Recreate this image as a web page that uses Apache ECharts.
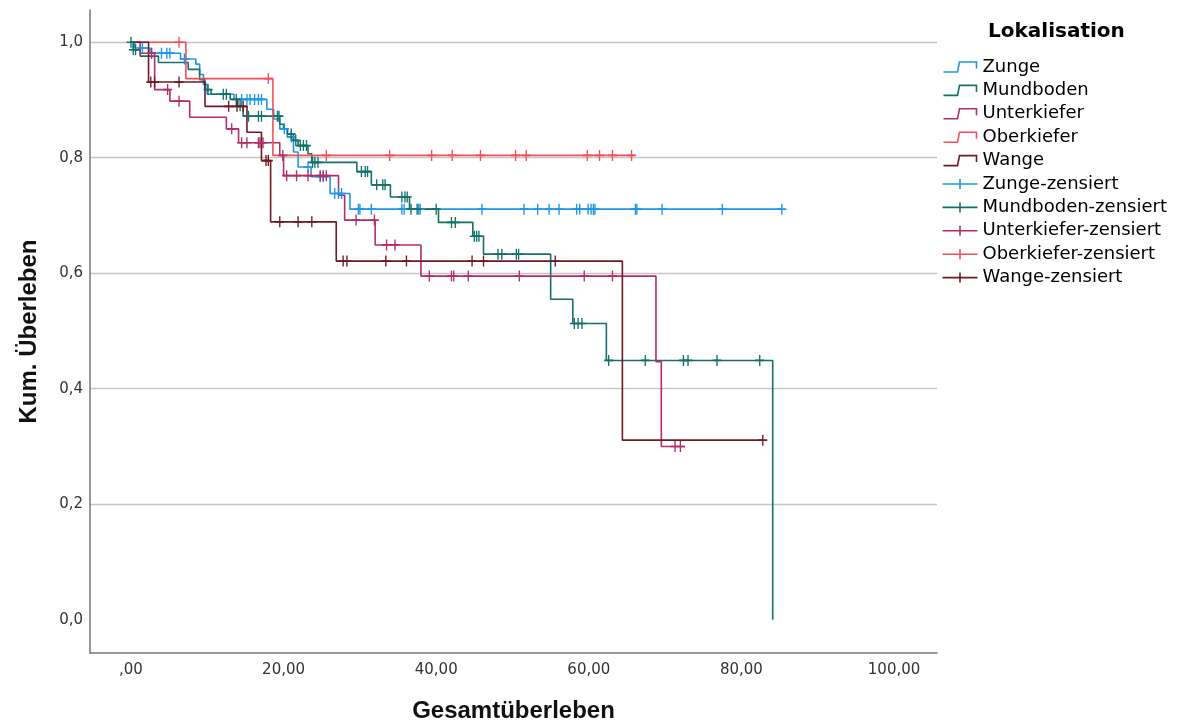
<!DOCTYPE html>
<html>
<head>
<meta charset="utf-8">
<script src="https://cdn.jsdelivr.net/npm/echarts@6/dist/echarts.min.js"></script>
<style>html,body{margin:0;padding:0;background:#fff;}#c{width:1188px;height:728px;}</style>
</head>
<body>
<div id="c"></div>
<script>
// ---- data ----
const xTicks = [0, 20, 40, 60, 80, 100];
const yTicks = [0, 0.2, 0.4, 0.6, 0.8, 1.0];
const groupNames = ['Zunge', 'Mundboden', 'Unterkiefer', 'Oberkiefer', 'Wange'];

const zungeTime = [0, 0.5, 2.5, 6.5, 8.5, 9.0, 9.5, 10.0, 13.5, 17.8, 18.7, 19.5, 20.5, 21.3, 21.9, 23.6, 26.1, 28.7, 85.3];
const zungeSurv = [1.0, 0.990, 0.981, 0.971, 0.962, 0.944, 0.927, 0.910, 0.901, 0.884, 0.867, 0.850, 0.836, 0.810, 0.784, 0.767, 0.738, 0.711, 0.711];
const zungeCens = [1.5, 2.7, 4.0, 4.7, 5.1, 7.0, 14.5, 15.2, 15.6, 16.2, 16.7, 17.1, 20.1, 21.0, 23.2, 24.8, 25.2, 26.7, 27.2, 27.6, 29.8, 30.0, 31.5, 35.5, 35.8, 37.7, 37.9, 46.0, 51.5, 53.3, 54.8, 56.1, 58.4, 58.8, 59.9, 60.3, 60.6, 60.8, 66.1, 66.3, 69.6, 77.5, 85.3];

const mundTime = [0, 0.3, 1.2, 3.6, 7.5, 9.0, 9.7, 10.5, 13.0, 14.0, 14.7, 19.5, 20.0, 20.5, 21.3, 21.9, 23.2, 23.7, 29.6, 31.5, 34.0, 36.5, 40.3, 44.8, 46.2, 55.0, 57.9, 62.3, 84.1];
const mundSurv = [1.0, 0.987, 0.976, 0.965, 0.953, 0.935, 0.918, 0.910, 0.901, 0.890, 0.872, 0.858, 0.850, 0.841, 0.830, 0.821, 0.807, 0.792, 0.776, 0.753, 0.732, 0.711, 0.688, 0.664, 0.633, 0.555, 0.513, 0.449, 0.0];
const mundCens = [0.0, 0.3, 0.6, 10.1, 12.1, 12.5, 13.8, 14.3, 15.4, 16.7, 17.1, 19.2, 19.4, 21.0, 21.6, 22.2, 22.6, 23.0, 23.8, 24.1, 24.5, 30.2, 30.7, 31.0, 32.2, 33.0, 33.3, 35.5, 35.9, 36.2, 36.7, 37.5, 40.0, 42.0, 42.5, 45.0, 45.3, 45.6, 48.1, 48.6, 50.5, 50.8, 58.1, 58.6, 59.1, 62.6, 67.4, 72.4, 73.0, 76.8, 82.4];

const unterTime = [0, 1.2, 3.1, 5.1, 7.7, 12.5, 14.1, 19.5, 20.0, 27.2, 28.0, 32.0, 38.0, 68.8, 69.5, 72.6];
const unterSurv = [1.0, 0.981, 0.918, 0.898, 0.870, 0.850, 0.826, 0.804, 0.769, 0.735, 0.692, 0.649, 0.595, 0.447, 0.300, 0.300];
const unterCens = [2.7, 4.8, 6.3, 13.2, 14.5, 15.2, 16.7, 16.9, 17.3, 19.9, 20.4, 21.7, 23.2, 24.8, 25.2, 25.6, 29.5, 31.9, 33.5, 34.6, 39.1, 42.0, 42.3, 44.2, 50.9, 59.4, 63.1, 71.3, 72.0];

const oberTime = [0, 7.2, 18.6, 66.0];
const oberSurv = [1.0, 0.937, 0.804, 0.804];
const oberCens = [6.3, 18.0, 25.6, 33.9, 39.4, 42.1, 45.8, 50.4, 51.8, 59.8, 61.4, 63.1, 65.6];

const wangeTime = [0, 2.3, 9.7, 15.2, 17.1, 18.3, 26.9, 64.4, 82.8];
const wangeSurv = [1.0, 0.931, 0.889, 0.844, 0.795, 0.689, 0.621, 0.311, 0.311];
const wangeCens = [2.6, 3.1, 6.3, 12.8, 13.9, 14.7, 17.7, 18.0, 19.5, 21.9, 23.7, 27.8, 28.3, 33.4, 36.1, 44.7, 46.2, 55.6, 82.8];

// ---- styling ----
const colors = ['#1e96e6', '#15706b', '#b22d6a', '#f0505a', '#6e1a24'];
const groups = [
  [zungeTime, zungeSurv, zungeCens],
  [mundTime, mundSurv, mundCens],
  [unterTime, unterSurv, unterCens],
  [oberTime, oberSurv, oberCens],
  [wangeTime, wangeSurv, wangeCens]
];

function levelAt(times, surv, c) {
  let s = surv[0];
  for (let i = 0; i < times.length; i++) { if (times[i] <= c) s = surv[i]; }
  return s;
}

const stepIcon = 'path://M0,10 L14,10 L16,0 L33,0 L33,6.5';
const censIcon = 'path://M0,5 L35,5 M17.5,0 L17.5,10';
const plusSymbol = 'path://M0,5 L10,5 M5,0 L5,10';

const series = [];
const legendData = [];
groups.forEach((g, i) => {
  series.push({
    name: groupNames[i],
    type: 'line',
    step: 'end',
    showSymbol: false,
    symbol: 'none',
    data: g[0].map((t, k) => [t, g[1][k]]),
    lineStyle: { color: colors[i], width: 1.6 },
    itemStyle: { color: colors[i] },
    emphasis: { disabled: true },
    z: 2
  });
  legendData.push({ name: groupNames[i], icon: stepIcon,
    itemStyle: { color: 'none', borderColor: colors[i], borderWidth: 1.6 } });
});
groups.forEach((g, i) => {
  const nm = groupNames[i] + '-zensiert';
  series.push({
    name: nm,
    type: 'scatter',
    symbol: plusSymbol,
    symbolSize: [9, 11],
    data: g[2].map(c => [c, levelAt(g[0], g[1], c)]),
    itemStyle: { color: 'none', borderColor: colors[i], borderWidth: 1.5, opacity: 1 },
    emphasis: { disabled: true },
    z: 3
  });
  legendData.push({ name: nm, icon: censIcon,
    itemStyle: { color: 'none', borderColor: colors[i], borderWidth: 1.6 } });
});

const chart = echarts.init(document.getElementById('c'));
chart.setOption({
  animation: false,
  backgroundColor: '#fff',
  title: {
    text: 'Lokalisation', left: 988, top: 22, padding: 0,
    textStyle: { fontFamily: 'DejaVu Sans', fontWeight: 'bold', fontSize: 20, color: '#000' }
  },
  legend: {
    orient: 'vertical', left: 940, top: 58, padding: 0,
    itemWidth: 35, itemHeight: 10, itemGap: 5.4, selectedMode: false,
    textStyle: { fontFamily: 'DejaVu Sans', fontSize: 18, color: '#000', lineHeight: 18 },
    data: legendData
  },
  grid: { left: 90, right: 251, top: 10, bottom: 70, containLabel: false },
  xAxis: {
    type: 'value', min: -5.37, max: 105.63,
    name: 'Gesamtüberleben', nameLocation: 'middle', nameGap: 46,
    nameTextStyle: { fontFamily: 'Liberation Sans', fontWeight: 'bold', fontSize: 24, color: '#111' },
    axisLine: { onZero: false, lineStyle: { color: '#777', width: 1.5 } },
    axisTick: { show: false },
    splitLine: { show: false },
    axisLabel: {
      customValues: xTicks, margin: 10,
      fontFamily: 'DejaVu Sans', fontSize: 15, color: '#333',
      formatter: v => { let s = v.toFixed(2).replace('.', ','); if (s.indexOf('0,') === 0) s = s.slice(1); return s; }
    }
  },
  yAxis: {
    type: 'value', min: -0.0576, max: 1.0558,
    name: 'Kum. Überleben', nameLocation: 'middle', nameRotate: 90, nameGap: 49,
    nameTextStyle: { fontFamily: 'Liberation Sans', fontWeight: 'bold', fontSize: 24, color: '#111' },
    axisLine: { show: true, onZero: false, lineStyle: { color: '#777', width: 1.5 } },
    axisTick: { show: false, customValues: yTicks },
    splitLine: { show: true, showMinLine: false, showMaxLine: true, lineStyle: { color: '#c6c6c6', width: 1.3 } },
    axisLabel: {
      customValues: yTicks, margin: 7,
      fontFamily: 'DejaVu Sans', fontSize: 15, color: '#333',
      formatter: v => v.toFixed(1).replace('.', ',')
    }
  },
  series: series
});
</script>
</body>
</html>
